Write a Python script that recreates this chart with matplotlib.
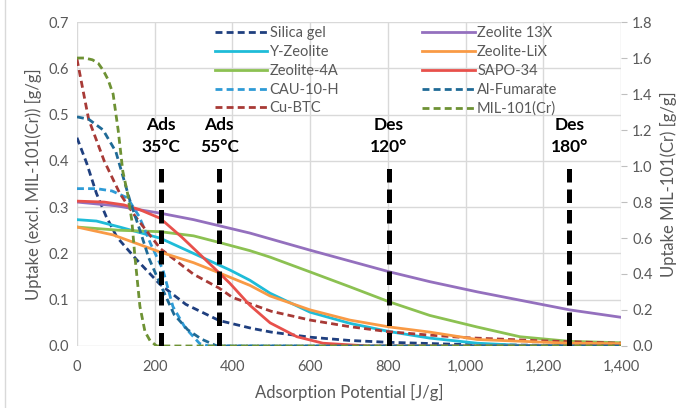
import matplotlib
matplotlib.use("Agg")
import matplotlib.pyplot as plt
from matplotlib.lines import Line2D
from matplotlib.ticker import FuncFormatter, MultipleLocator

plt.rcParams['font.family'] = ['Lato', 'DejaVu Sans']

GRAY = '#595959'
GRID = '#D9D9D9'

# adsorption potential [J/g] and uptake [g/g]
silica_x = [0, 25, 50, 75, 103, 154, 214, 280, 366, 450, 500, 600, 700, 800, 1000, 1400]
silica_y = [0.45, 0.395, 0.33, 0.28, 0.235, 0.186, 0.133, 0.09, 0.055, 0.038, 0.03, 0.019, 0.012, 0.008, 0.003, 0.0]

z13x_x = [0, 100, 214, 300, 360, 445, 600, 805, 908, 1030, 1268, 1400]
z13x_y = [0.311, 0.303, 0.287, 0.273, 0.261, 0.244, 0.207, 0.16, 0.139, 0.117, 0.078, 0.062]

yzeo_x = [0, 50, 110, 214, 300, 360, 394, 445, 497, 600, 702, 805, 908, 1030, 1150, 1400]
yzeo_y = [0.273, 0.27, 0.257, 0.233, 0.2, 0.177, 0.164, 0.142, 0.114, 0.073, 0.049, 0.031, 0.017, 0.006, 0.001, 0.0]

lix_x = [0, 93, 214, 300, 360, 445, 497, 600, 702, 805, 908, 1030, 1268, 1400]
lix_y = [0.257, 0.24, 0.203, 0.18, 0.16, 0.131, 0.108, 0.078, 0.056, 0.041, 0.03, 0.014, 0.006, 0.005]

z4a_x = [0, 110, 214, 300, 360, 445, 497, 600, 702, 805, 908, 1030, 1140, 1268, 1400]
z4a_y = [0.257, 0.25, 0.247, 0.238, 0.225, 0.206, 0.192, 0.16, 0.128, 0.095, 0.066, 0.041, 0.02, 0.01, 0.007]

sapo_x = [0, 70, 120, 160, 214, 270, 320, 366, 394, 445, 497, 566, 633, 750, 1400]
sapo_y = [0.313, 0.311, 0.305, 0.295, 0.276, 0.235, 0.195, 0.158, 0.135, 0.088, 0.05, 0.02, 0.006, 0.0, 0.0]

cau_x = [0, 50, 90, 130, 160, 190, 221, 247, 278, 316, 340, 1400]
cau_y = [0.34, 0.34, 0.335, 0.32, 0.28, 0.22, 0.165, 0.085, 0.04, 0.005, 0.0, 0.0]

alfum_x = [0, 30, 67, 100, 136, 160, 185, 213, 250, 285, 320, 360, 1400]
alfum_y = [0.495, 0.49, 0.467, 0.42, 0.315, 0.255, 0.19, 0.136, 0.068, 0.035, 0.015, 0.0, 0.0]

cubtc_x = [0, 30, 70, 110, 150, 215, 300, 366, 400, 500, 600, 700, 800, 900, 1000, 1200, 1400]
cubtc_y = [0.62, 0.49, 0.40, 0.33, 0.28, 0.21, 0.155, 0.125, 0.105, 0.075, 0.056, 0.042, 0.031, 0.024, 0.018, 0.011, 0.006]

# MIL-101(Cr) on the secondary axis
mil_x = [0, 20, 40, 55, 68, 80, 93, 106, 118, 130, 141, 149, 162, 175, 188, 205, 1400]
mil_y = [1.6, 1.6, 1.59, 1.57, 1.53, 1.48, 1.4, 1.2, 0.97, 0.85, 0.70, 0.5, 0.22, 0.08, 0.03, 0.0, 0.0]

# adsorption / desorption markers
mark_x = [215, 366, 803, 1267]
mark_labels = ['Ads\n35°C', 'Ads\n55°C', 'Des\n120°', 'Des\n180°']
mark_top = 0.395

fig = plt.figure(figsize=(6.86, 4.08), dpi=100)
ax = fig.add_axes([0.1122, 0.152, 0.793, 0.794])
ax2 = ax.twinx()

dash = (2.5, 1.5)
lw = 2.0
series = [
    (silica_x, silica_y, 'Silica gel', '#1F3F7F', True),
    (yzeo_x, yzeo_y, 'Y-Zeolite', '#1FBCD8', False),
    (z4a_x, z4a_y, 'Zeolite-4A', '#8CC152', False),
    (cau_x, cau_y, 'CAU-10-H', '#2E9BD6', True),
    (cubtc_x, cubtc_y, 'Cu-BTC', '#A83A36', True),
    (z13x_x, z13x_y, 'Zeolite 13X', '#9470BE', False),
    (lix_x, lix_y, 'Zeolite-LiX', '#F99A45', False),
    (sapo_x, sapo_y, 'SAPO-34', '#E8504B', False),
    (alfum_x, alfum_y, 'Al-Fumarate', '#1F6A96', True),
]

handles = []
for xs, ys, name, col, dashed in series:
    if dashed:
        ln, = ax.plot(xs, ys, color=col, lw=lw, dashes=dash, label=name)
    else:
        ln, = ax.plot(xs, ys, color=col, lw=lw, label=name)
    handles.append(ln)

mil, = ax2.plot(mil_x, mil_y, color='#6E9234', lw=lw, dashes=dash, label='MIL-101(Cr)')
handles.append(mil)

for xv, lab in zip(mark_x, mark_labels):
    ax2.axvline(xv, ymin=0, ymax=mark_top / 0.7, color='black', lw=3.6, dashes=(2.7, 1.4), zorder=5)
    ax2.text(xv, 1.06, lab, ha='center', va='bottom', fontsize=12.5, fontweight='bold',
             linespacing=1.45, zorder=6)

ax.set_xlim(0, 1400)
ax.set_ylim(0, 0.7)
ax2.set_ylim(0, 1.8)
ax.xaxis.set_major_locator(MultipleLocator(200))
ax.yaxis.set_major_locator(MultipleLocator(0.1))
ax2.yaxis.set_major_locator(MultipleLocator(0.2))
ax.xaxis.set_major_formatter(FuncFormatter(lambda v, p: f"{v:,.0f}"))
ax.yaxis.set_major_formatter(FuncFormatter(lambda v, p: f"{v:.1f}"))
ax2.yaxis.set_major_formatter(FuncFormatter(lambda v, p: f"{v:.1f}"))

ax.grid(True, color=GRID, lw=1.0)
ax.set_axisbelow(True)
for a in (ax, ax2):
    for s in a.spines.values():
        s.set_visible(False)
ax.tick_params(axis='both', length=0, labelsize=10.5, labelcolor=GRAY, pad=6)
ax.tick_params(axis='x', pad=10)
ax2.tick_params(axis='y', length=4, color='#BFBFBF', labelsize=10.5, labelcolor=GRAY, pad=4)

ax.set_xlabel('Adsorption Potential [J/g]', fontsize=12, color=GRAY, labelpad=7)
ax.set_ylabel('Uptake (excl. MIL-101(Cr)) [g/g]', fontsize=12, color=GRAY, labelpad=4)
ax2.set_ylabel('Uptake MIL-101(Cr) [g/g]', fontsize=12, color=GRAY, labelpad=5)

leg = ax2.legend(handles=handles, ncol=2, loc='upper left', bbox_to_anchor=(0.243, 1.005),
                 frameon=False, fontsize=10.5, handlelength=3.6, handletextpad=0.15,
                 labelspacing=0.33, columnspacing=5.7, borderaxespad=0)
for t in leg.get_texts():
    t.set_color(GRAY)

fig.add_artist(Line2D([5 / 686, 5 / 686], [0, 1], color='#D9D9D9', lw=1))

fig.savefig('out.png', dpi=100)
